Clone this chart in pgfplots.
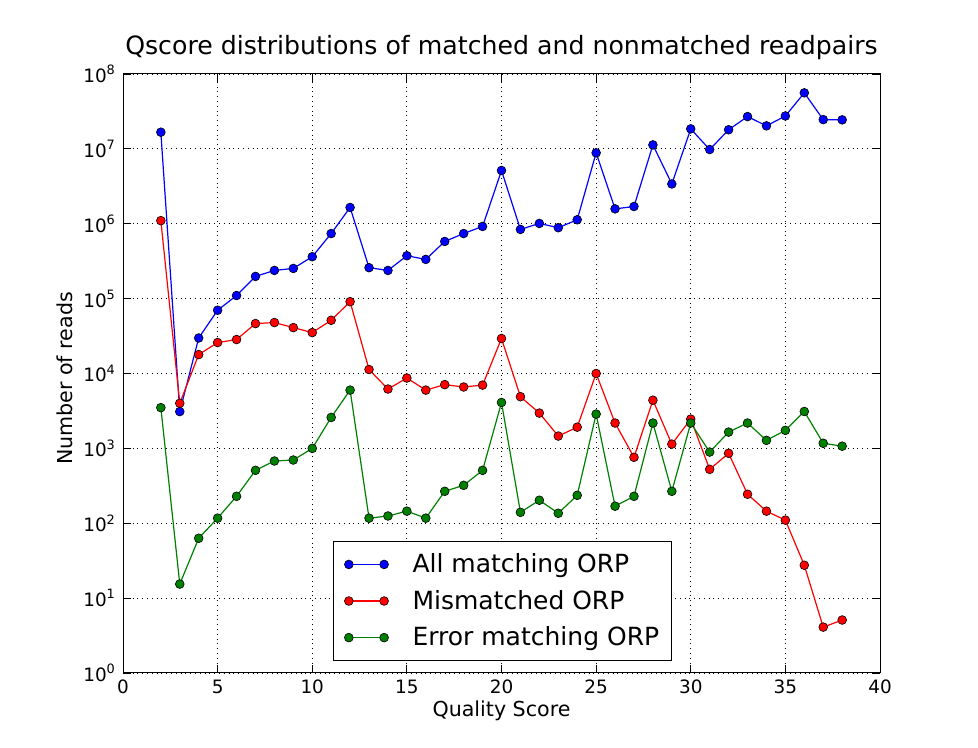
\documentclass[border=0pt]{standalone}
\usepackage{fontspec}
\setmainfont{DejaVu Sans}
\usepackage{pgfplots}
\pgfplotsset{compat=1.18}
\definecolor{mgreen}{rgb}{0,0.5,0}
\begin{document}
\begin{tikzpicture}
\begin{axis}[
 scale only axis, width=378.5pt, height=299.5pt,
 xmin=0, xmax=40, ymode=log, log basis y=10, ymin=1, ymax=1e8,
 xtick={0,5,...,40},
 ytick={1,10,100,1000,10000,100000,1000000,10000000,100000000},
 grid=major, major grid style={black, dotted, line width=0.4pt},
 tick align=inside,
 major tick length=4pt, minor tick length=2pt,
 every tick/.style={black, line width=0.4pt},
 axis line style={line width=0.5pt},
 ticklabel style={font=\fontsize{9.2}{10}\selectfont},
 /pgf/number format/assume math mode=true,
 yticklabel={10\textsuperscript{\pgfmathparse{int(round(\tick))}\pgfmathresult}},
 title={Qscore distributions of matched and nonmatched readpairs},
 title style={font=\fontsize{12.6}{14}\selectfont, at={(0.5,1)}, anchor=base, yshift=3.5pt},
 xlabel={Quality Score}, ylabel={Number of reads},
 label style={font=\fontsize{10.3}{12}\selectfont},
 xlabel style={at={(0.5,0)}, anchor=base, yshift=-22pt},
 ylabel style={at={(0,0.5)}, anchor=base, yshift=25pt, xshift=-2.5pt},
 legend style={at={(0.2774,0.02)}, anchor=south west, draw=black, line width=0.4pt,
   font=\fontsize{12.5}{14}\selectfont, row sep=3.3pt, column sep=10pt, inner ysep=4pt, inner xsep=4pt},
 legend cell align=left,
 legend image code/.code={\path (-0.12cm,0cm); \draw[#1] plot coordinates {(0cm,0cm) (0.62cm,0cm)};},
]
\addplot[blue, line width=0.6pt, mark=*, mark size=2.2pt, mark options={fill=blue, draw=black, line width=0.3pt}] coordinates {
(2,1.67e7) (3,3.1e3) (4,2.98e4) (5,7.0e4) (6,1.1e5) (7,1.98e5) (8,2.38e5) (9,2.53e5) (10,3.63e5)
(11,7.4e5) (12,1.65e6) (13,2.59e5) (14,2.38e5) (15,3.74e5) (16,3.34e5) (17,5.8e5) (18,7.4e5) (19,9.2e5)
(20,5.14e6) (21,8.4e5) (22,1.01e6) (23,8.85e5) (24,1.13e6) (25,8.85e6) (26,1.58e6) (27,1.7e6) (28,1.13e7)
(29,3.4e6) (30,1.85e7) (31,9.8e6) (32,1.8e7) (33,2.7e7) (34,2.03e7) (35,2.75e7) (36,5.6e7) (37,2.46e7) (38,2.44e7)
};
\addlegendentry{All matching ORP}
\addplot[red, line width=0.6pt, mark=*, mark size=2.2pt, mark options={fill=red, draw=black, line width=0.3pt}] coordinates {
(2,1.1e6) (3,4.0e3) (4,1.79e4) (5,2.59e4) (6,2.84e4) (7,4.64e4) (8,4.79e4) (9,4.1e4) (10,3.52e4)
(11,5.14e4) (12,9.1e4) (13,1.13e4) (14,6.2e3) (15,8.7e3) (16,6.0e3) (17,7.1e3) (18,6.6e3) (19,7.0e3)
(20,2.93e4) (21,4.9e3) (22,2.96e3) (23,1.46e3) (24,1.92e3) (25,1.0e4) (26,2.18e3) (27,7.6e2) (28,4.4e3)
(29,1.14e3) (30,2.46e3) (31,5.25e2) (32,8.6e2) (33,2.44e2) (34,1.45e2) (35,1.1e2) (36,27.5) (37,4.1) (38,5.1)
};
\addlegendentry{Mismatched ORP}
\addplot[mgreen, line width=0.6pt, mark=*, mark size=2.2pt, mark options={fill=mgreen, draw=black, line width=0.3pt}] coordinates {
(2,3500) (3,15.4) (4,63) (5,117) (6,229) (7,509) (8,678) (9,699) (10,1000)
(11,2590) (12,6000) (13,117) (14,125) (15,145) (16,117) (17,267) (18,321) (19,509)
(20,4100) (21,140) (22,203) (23,136) (24,236) (25,2870) (26,169) (27,229) (28,2180)
(29,267) (30,2180) (31,893) (32,1650) (33,2180) (34,1280) (35,1740) (36,3110) (37,1170) (38,1070)
};
\addlegendentry{Error matching ORP}
\coordinate (sw) at (rel axis cs:0,0);
\coordinate (ne) at (rel axis cs:1,1);
\end{axis}
\pgfresetboundingbox
\path[use as bounding box] ([shift={(-61.5pt,-37.5pt)}]sw) rectangle ([shift={(49pt,37pt)}]ne);
\end{tikzpicture}
\end{document}
